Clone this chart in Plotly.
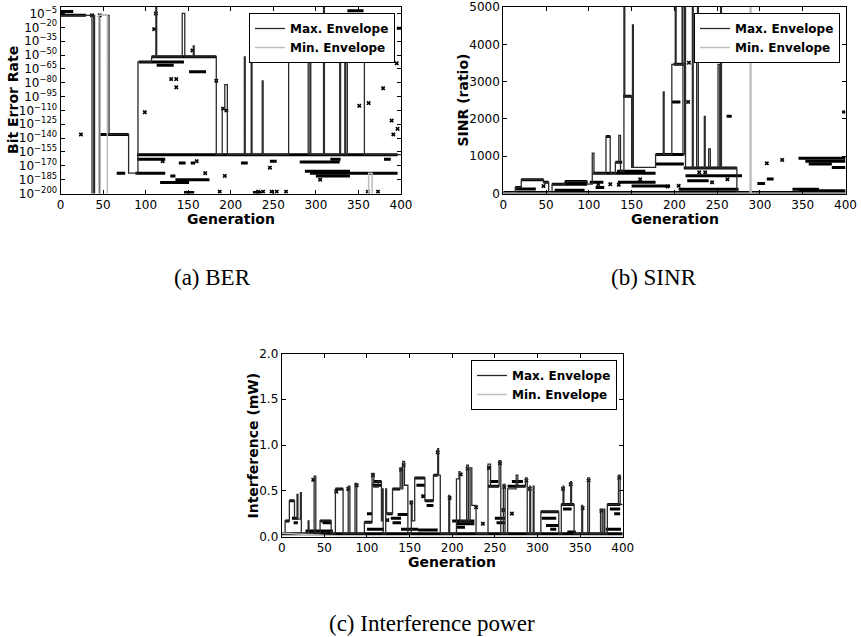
import plotly.graph_objects as go

W, H = 861, 637

gen_ticks = [0, 50, 100, 150, 200, 250, 300, 350, 400]

# ---------------- (a) Bit error rate, stored as log10(BER) ----------------
ber_tick_exp = [-5, -20, -35, -50, -65, -80, -95, -110, -125, -140, -155, -170, -185, -200]

ber_run_start = [0, 0, 47, 66, 88, 90, 90, 92, 107, 113, 151, 117, 135, 145, 226, 268, 270, 339, 343,
                 293, 300, 281, 287, 337, 395, 212, 246, 317, 380, 139, 153, 129]
ber_run_end = [30, 15, 80, 76, 123, 396, 123, 145, 183, 133, 171, 151, 175, 157, 236, 293, 290, 357, 350,
               396, 340, 328, 340, 356, 400, 220, 254, 329, 388, 147, 158, 135]
ber_run_exp = [-7, -3, -136, -178, -178, -158, -163, -57.5, -52, -61, -68, -188, -185, -199, -199, -52, -55,
               -52, -57, -178, -181, -166, -176, -2, -21, -167, -165, -163, -163, -167, -167, -181]

ber_pt_gen = [24, 37, 46, 99, 110, 112, 130, 136, 136, 155, 183, 191, 195, 193, 232, 238, 248, 254, 265,
              246, 305, 351, 362, 373, 361, 379, 383, 389, 391, 395, 396, 187, 120, 160, 170]
ber_pt_exp = [-136, -7, -7, -112, -22, -5, -76, -76, -85, -45, -78, -108, -110, -181, -198, -198, -198, -198,
              -198, -172, -185, -105, -102, -198, -198, -86, -52, -121, -136, -59, -130, -198, -165, -165, -178]

ber_max_gen = [0, 37, 37, 39, 39, 40, 40, 46, 46, 57, 57, 80, 80, 91, 91, 107, 107, 112, 112, 113, 113,
               143, 143, 146, 146, 156, 156, 157, 157, 183, 183, 190, 190, 193, 193, 196, 196, 216, 216,
               217, 217, 224, 224, 225, 225, 237, 237, 238, 238, 268, 268, 291, 291, 293, 293, 294, 294,
               309, 309, 310, 310, 328, 328, 329, 329, 334, 334, 335, 335, 337, 337, 357, 357, 400]
ber_max_exp = [-7, -7, -210, -210, -7, -7, -210, -210, -7, -7, -136, -136, -178, -178, -57.5, -57.5, -52,
               -52, 2, 2, -52, -52, -5, -5, -52, -52, -40, -40, -52, -52, -158, -158, -107, -107, -82, -82,
               -158, -158, -52, -52, -158, -158, -52, -52, -158, -158, -78, -78, -158, -158, -52, -52,
               -158, -158, -52, -52, -158, -158, 2, 2, -158, -158, -52, -52, -158, -158, -52, -52, -158,
               -158, -52, -52, -158, -158]

ber_min_gen = [0, 45, 45, 55, 55, 362, 362, 366, 366, 400]
ber_min_exp = [-210, -210, -7, -7, -210, -210, -178, -178, -210, -210]

# ---------------- (b) SINR (ratio) ----------------
sinr_ticks = [0, 1000, 2000, 3000, 4000, 5000]

sinr_run_start = [0, 14, 21, 47, 15, 57, 72, 60, 101, 108, 105, 133, 134, 150, 178, 178, 211, 213, 205,
                  215, 140, 199, 197, 120, 131, 261, 396, 297, 308, 338, 345, 345, 353, 357, 384]
sinr_run_end = [400, 21, 47, 53, 38, 98, 98, 95, 117, 118, 178, 166, 178, 195, 211, 211, 273, 279, 275,
                240, 150, 211, 207, 125, 139, 267, 400, 306, 316, 369, 400, 400, 400, 384, 400]
sinr_run_val = [25, 160, 370, 300, 120, 250, 320, 90, 300, 160, 540, 594, 300, 200, 1043, 791, 683, 477,
                117, 340, 2608, 3462, 2455, 1529, 836, 2068, 2185, 270, 387, 117, 72, 944, 863, 791, 700]

sinr_pt_gen = [47, 111, 135, 192, 205, 216, 217, 236, 229, 308, 326, 125, 160, 244, 262]
sinr_pt_val = [198, 252, 234, 189, 207, 2455, 3507, 567, 567, 809, 899, 250, 380, 300, 380]

sinr_max_gen = [0, 14, 14, 21, 21, 47, 47, 53, 53, 57, 57, 72, 72, 98, 98, 104, 104, 106, 106, 120, 120,
                125, 125, 131, 131, 135, 135, 137, 137, 141, 141, 142, 142, 150, 150, 151, 151, 152, 152,
                178, 178, 187, 187, 188, 188, 197, 197, 201, 201, 202, 202, 209, 209, 210, 210, 212, 212,
                213, 213, 221, 221, 222, 222, 226, 226, 227, 227, 228, 228, 235, 235, 236, 236, 240, 240,
                242, 242, 251, 251, 253, 253, 254, 254, 255, 255, 273, 273, 400]
sinr_max_val = [25, 25, 160, 160, 370, 370, 300, 300, 25, 25, 250, 250, 320, 320, 250, 250, 1079, 1079,
                540, 540, 1529, 1529, 540, 540, 836, 836, 1556, 1556, 594, 594, 5600, 5600, 2608, 2608,
                700, 700, 4523, 4523, 700, 700, 1043, 1043, 2725, 2725, 1043, 1043, 3462, 3462, 5600,
                5600, 3462, 3462, 5600, 5600, 1043, 1043, 5600, 5600, 683, 683, 5600, 5600, 683, 683,
                3516, 3516, 5600, 5600, 683, 683, 2068, 2068, 683, 683, 1196, 1196, 683, 683, 3462,
                3462, 683, 683, 5600, 5600, 683, 683, 25, 25]

sinr_min_gen = [0, 288.5, 288.5, 289.5, 289.5, 400]
sinr_min_val = [10, 10, 5600, 5600, 10, 10]

# ---------------- (c) Interference power (mW) ----------------
intf_ticks = [0.0, 0.5, 1.0, 1.5, 2.0]

intf_run_start = [0, 4, 9, 12, 14, 28, 45, 48, 63, 97, 100, 106, 108, 123, 130, 128, 130, 136, 140, 156,
                  158, 164, 168, 170, 178, 160, 200, 205, 205, 242, 244, 250, 252, 265, 270, 304, 305,
                  310, 315, 328, 330, 382, 385, 390, 335, 100, 380]
intf_run_end = [400, 9, 15, 19, 19, 60, 58, 58, 72, 106, 106, 117, 117, 130, 139, 140, 140, 148, 160, 168,
                168, 168, 178, 178, 183, 183, 226, 226, 215, 255, 254, 262, 262, 286, 283, 325, 322, 325,
                322, 343, 340, 397, 397, 397, 345, 120, 398]
intf_run_val = [0.03, 0.17, 0.39, 0.2, 0.15, 0.06, 0.17, 0.15, 0.52, 0.155, 0.25, 0.56, 0.6, 0.25, 0.52,
                0.2, 0.15, 0.24, 0.08, 0.64, 0.56, 0.44, 0.39, 0.34, 0.67, 0.07, 0.17, 0.14, 0.1, 0.55,
                0.6, 0.2, 0.15, 0.55, 0.6, 0.27, 0.2, 0.12, 0.08, 0.35, 0.3, 0.35, 0.3, 0.25, 0.05, 0.08,
                0.08]

intf_pt_gen = [37, 64, 78, 88, 107, 140, 143, 152, 166, 183, 197, 210, 218, 228, 236, 243, 256, 261, 287,
               291, 330, 339, 353, 360, 375, 396, 124, 260, 270]
intf_pt_val = [0.62, 0.49, 0.52, 0.56, 0.67, 0.73, 0.78, 0.37, 0.44, 0.92, 0.42, 0.68, 0.74, 0.32, 0.14,
               0.75, 0.8, 0.54, 0.61, 0.52, 0.52, 0.57, 0.31, 0.61, 0.28, 0.64, 0.18, 0.29, 0.25]

intf_max_gen = [0, 4, 4, 9, 9, 15, 15, 18, 18, 19, 19, 22, 22, 23, 23, 31, 31, 32, 32, 38, 38, 40, 40, 45,
                45, 58, 58, 63, 63, 72, 72, 78, 78, 80, 80, 86, 86, 88, 88, 97, 97, 106, 106, 108, 108,
                113, 113, 117, 117, 118, 118, 119, 119, 122, 122, 123, 123, 130, 130, 139, 139, 141, 141,
                142, 142, 144, 144, 148, 148, 152, 152, 153, 153, 156, 156, 168, 168, 178, 178, 183, 183,
                184, 184, 186, 186, 196, 196, 197, 197, 205, 205, 208, 208, 209, 209, 217, 217, 219, 219,
                221, 221, 223, 223, 228, 228, 242, 242, 245, 245, 255, 255, 257, 257, 260, 260, 262, 262,
                265, 265, 275, 275, 277, 277, 286, 286, 288, 288, 291, 291, 292, 292, 295, 295, 296, 296,
                304, 304, 325, 325, 328, 328, 330, 330, 331, 331, 339, 339, 340, 340, 343, 343, 352, 352,
                353, 353, 359, 359, 361, 361, 374, 374, 376, 376, 378, 378, 379, 379, 382, 382, 395, 395,
                397, 397, 400]
intf_max_val = [0.03, 0.03, 0.17, 0.17, 0.39, 0.39, 0.19, 0.19, 0.46, 0.46, 0.19, 0.19, 0.48, 0.48, 0.03,
                0.03, 0.17, 0.17, 0.03, 0.03, 0.66, 0.66, 0.03, 0.03, 0.17, 0.17, 0.03, 0.03, 0.52, 0.52,
                0.03, 0.03, 0.55, 0.55, 0.03, 0.03, 0.58, 0.58, 0.03, 0.03, 0.155, 0.155, 0.69, 0.69,
                0.54, 0.54, 0.6, 0.6, 0.17, 0.17, 0.52, 0.52, 0.03, 0.03, 0.52, 0.52, 0.25, 0.25, 0.52,
                0.52, 0.75, 0.75, 0.52, 0.52, 0.82, 0.82, 0.56, 0.56, 0.03, 0.03, 0.39, 0.39, 0.17, 0.17,
                0.64, 0.64, 0.39, 0.39, 0.67, 0.67, 0.96, 0.96, 0.67, 0.67, 0.03, 0.03, 0.45, 0.45, 0.03,
                0.03, 0.63, 0.63, 0.71, 0.71, 0.17, 0.17, 0.78, 0.78, 0.17, 0.17, 0.75, 0.75, 0.34, 0.34,
                0.03, 0.03, 0.79, 0.79, 0.55, 0.55, 0.83, 0.83, 0.03, 0.03, 0.57, 0.57, 0.03, 0.03, 0.52,
                0.52, 0.67, 0.67, 0.55, 0.55, 0.64, 0.64, 0.03, 0.03, 0.55, 0.55, 0.03, 0.03, 0.55, 0.55,
                0.03, 0.03, 0.27, 0.27, 0.03, 0.03, 0.35, 0.35, 0.55, 0.55, 0.35, 0.35, 0.6, 0.6, 0.35,
                0.35, 0.03, 0.03, 0.34, 0.34, 0.03, 0.03, 0.64, 0.64, 0.03, 0.03, 0.3, 0.3, 0.03, 0.03,
                0.3, 0.3, 0.03, 0.03, 0.35, 0.35, 0.67, 0.67, 0.35, 0.35]

intf_min_gen = [0, 67, 400]
intf_min_val = [0.035, 0.005, 0.005]

# ---------------- styling ----------------
MAX_COLOR = "#2a2a2a"
MIN_COLOR = "#bdbdbd"
SANS = "DejaVu Sans"
SERIF = "Liberation Serif"


def px_x(x):
    return x / W


def px_y(y):
    return 1 - y / H


def runs_xy(starts, ends, vals, conv=lambda v: v):
    xs, ys = [], []
    for s, e, v in zip(starts, ends, vals):
        xs += [s, e, None]
        ys += [conv(v), conv(v), None]
    return xs, ys


def to_ber(e):
    return 10.0 ** e


fig = go.Figure()


def add_panel(xa, ya, legend_id, runs, pts, vmax, vmin, conv=lambda v: v):
    rx, ry = runs_xy(*runs, conv=conv)
    fig.add_trace(go.Scatter(x=rx, y=ry, mode="lines", xaxis=xa, yaxis=ya,
                             line=dict(color="black", width=3), showlegend=False,
                             hoverinfo="skip"))
    fig.add_trace(go.Scatter(x=pts[0], y=[conv(v) for v in pts[1]], mode="markers",
                             xaxis=xa, yaxis=ya, showlegend=False,
                             marker=dict(symbol="x", size=4, color="black")))
    fig.add_trace(go.Scatter(x=vmax[0], y=[conv(v) for v in vmax[1]], mode="lines",
                             xaxis=xa, yaxis=ya, name="Max. Envelope", legend=legend_id,
                             line=dict(color=MAX_COLOR, width=1.3)))
    fig.add_trace(go.Scatter(x=vmin[0], y=[conv(v) for v in vmin[1]], mode="lines",
                             xaxis=xa, yaxis=ya, name="Min. Envelope", legend=legend_id,
                             line=dict(color=MIN_COLOR, width=1.5)))


add_panel("x", "y", "legend",
          (ber_run_start, ber_run_end, ber_run_exp), (ber_pt_gen, ber_pt_exp),
          (ber_max_gen, ber_max_exp), (ber_min_gen, ber_min_exp), conv=to_ber)
add_panel("x2", "y2", "legend2",
          (sinr_run_start, sinr_run_end, sinr_run_val), (sinr_pt_gen, sinr_pt_val),
          (sinr_max_gen, sinr_max_val), (sinr_min_gen, sinr_min_val))
add_panel("x3", "y3", "legend3",
          (intf_run_start, intf_run_end, intf_run_val), (intf_pt_gen, intf_pt_val),
          (intf_max_gen, intf_max_val), (intf_min_gen, intf_min_val))


def axis(domain, anchor, **kw):
    d = dict(domain=domain, anchor=anchor, showline=True, mirror="ticks", linecolor="black",
             linewidth=1, ticks="inside", ticklen=4, tickwidth=1, tickcolor="black",
             showgrid=False, zeroline=False, automargin=False,
             tickfont=dict(family=SANS, size=12, color="black"))
    d.update(kw)
    return d


# panel boxes in pixels: (left, right, top, bottom)
box_a = (60.5, 401, 7, 193.5)
box_b = (503.3, 845.5, 7, 193.5)
box_c = (281.7, 622.7, 353.5, 536.5)


def xdom(b):
    return [px_x(b[0]), px_x(b[1])]


def ydom(b):
    return [px_y(b[3]), px_y(b[2])]


gen_axis = dict(range=[0, 400], tickmode="array", tickvals=gen_ticks,
                ticktext=[str(t) for t in gen_ticks])

legend_style = dict(xanchor="right", yanchor="top", bgcolor="white", bordercolor="black",
                    borderwidth=1, itemwidth=30, tracegroupgap=0,
                    font=dict(family=SANS, size=12, color="black", weight="bold"))

fig.update_layout(
    width=W, height=H, margin=dict(l=0, r=0, t=0, b=0),
    template="none", plot_bgcolor="white", paper_bgcolor="white",
    xaxis=axis(xdom(box_a), "y", **gen_axis),
    yaxis=axis(ydom(box_a), "x", type="log", range=[-200, 2], tickmode="array",
               tickvals=[to_ber(e) for e in ber_tick_exp],
               ticktext=["10<sup>\u2212%d</sup>" % abs(e) for e in ber_tick_exp]),
    xaxis2=axis(xdom(box_b), "y2", **gen_axis),
    yaxis2=axis(ydom(box_b), "x2", range=[0, 5000], tickmode="array", tickvals=sinr_ticks,
                ticktext=[str(t) for t in sinr_ticks]),
    xaxis3=axis(xdom(box_c), "y3", **gen_axis),
    yaxis3=axis(ydom(box_c), "x3", range=[0, 2], tickmode="array", tickvals=intf_ticks,
                ticktext=["%.1f" % t for t in intf_ticks]),
    legend=dict(x=px_x(395), y=px_y(13), **legend_style),
    legend2=dict(x=px_x(840), y=px_y(13), **legend_style),
    legend3=dict(x=px_x(617), y=px_y(360), **legend_style),
)

bold = dict(family=SANS, size=14, color="black", weight="bold")
cap = dict(family=SERIF, size=23, color="black")

labels = [
    ("Bit Error Rate", 13.5, 100.5, -90, bold),
    ("SINR (ratio)", 463, 100.5, -90, bold),
    ("Interference (mW)", 252.5, 445, -90, bold),
    ("Generation", 231, 218.5, 0, bold),
    ("Generation", 674.5, 218.5, 0, bold),
    ("Generation", 452, 561.5, 0, bold),
    ("(a) BER", 212, 277, 0, cap),
    ("(b) SINR", 654, 277, 0, cap),
    ("(c) Interference power", 432, 623, 0, cap),
]
for text, x, y, ang, font in labels:
    fig.add_annotation(text=text, x=px_x(x), y=px_y(y), xref="paper", yref="paper",
                       xanchor="center", yanchor="middle", showarrow=False, textangle=ang,
                       font=font)

fig.write_html("out.html")
